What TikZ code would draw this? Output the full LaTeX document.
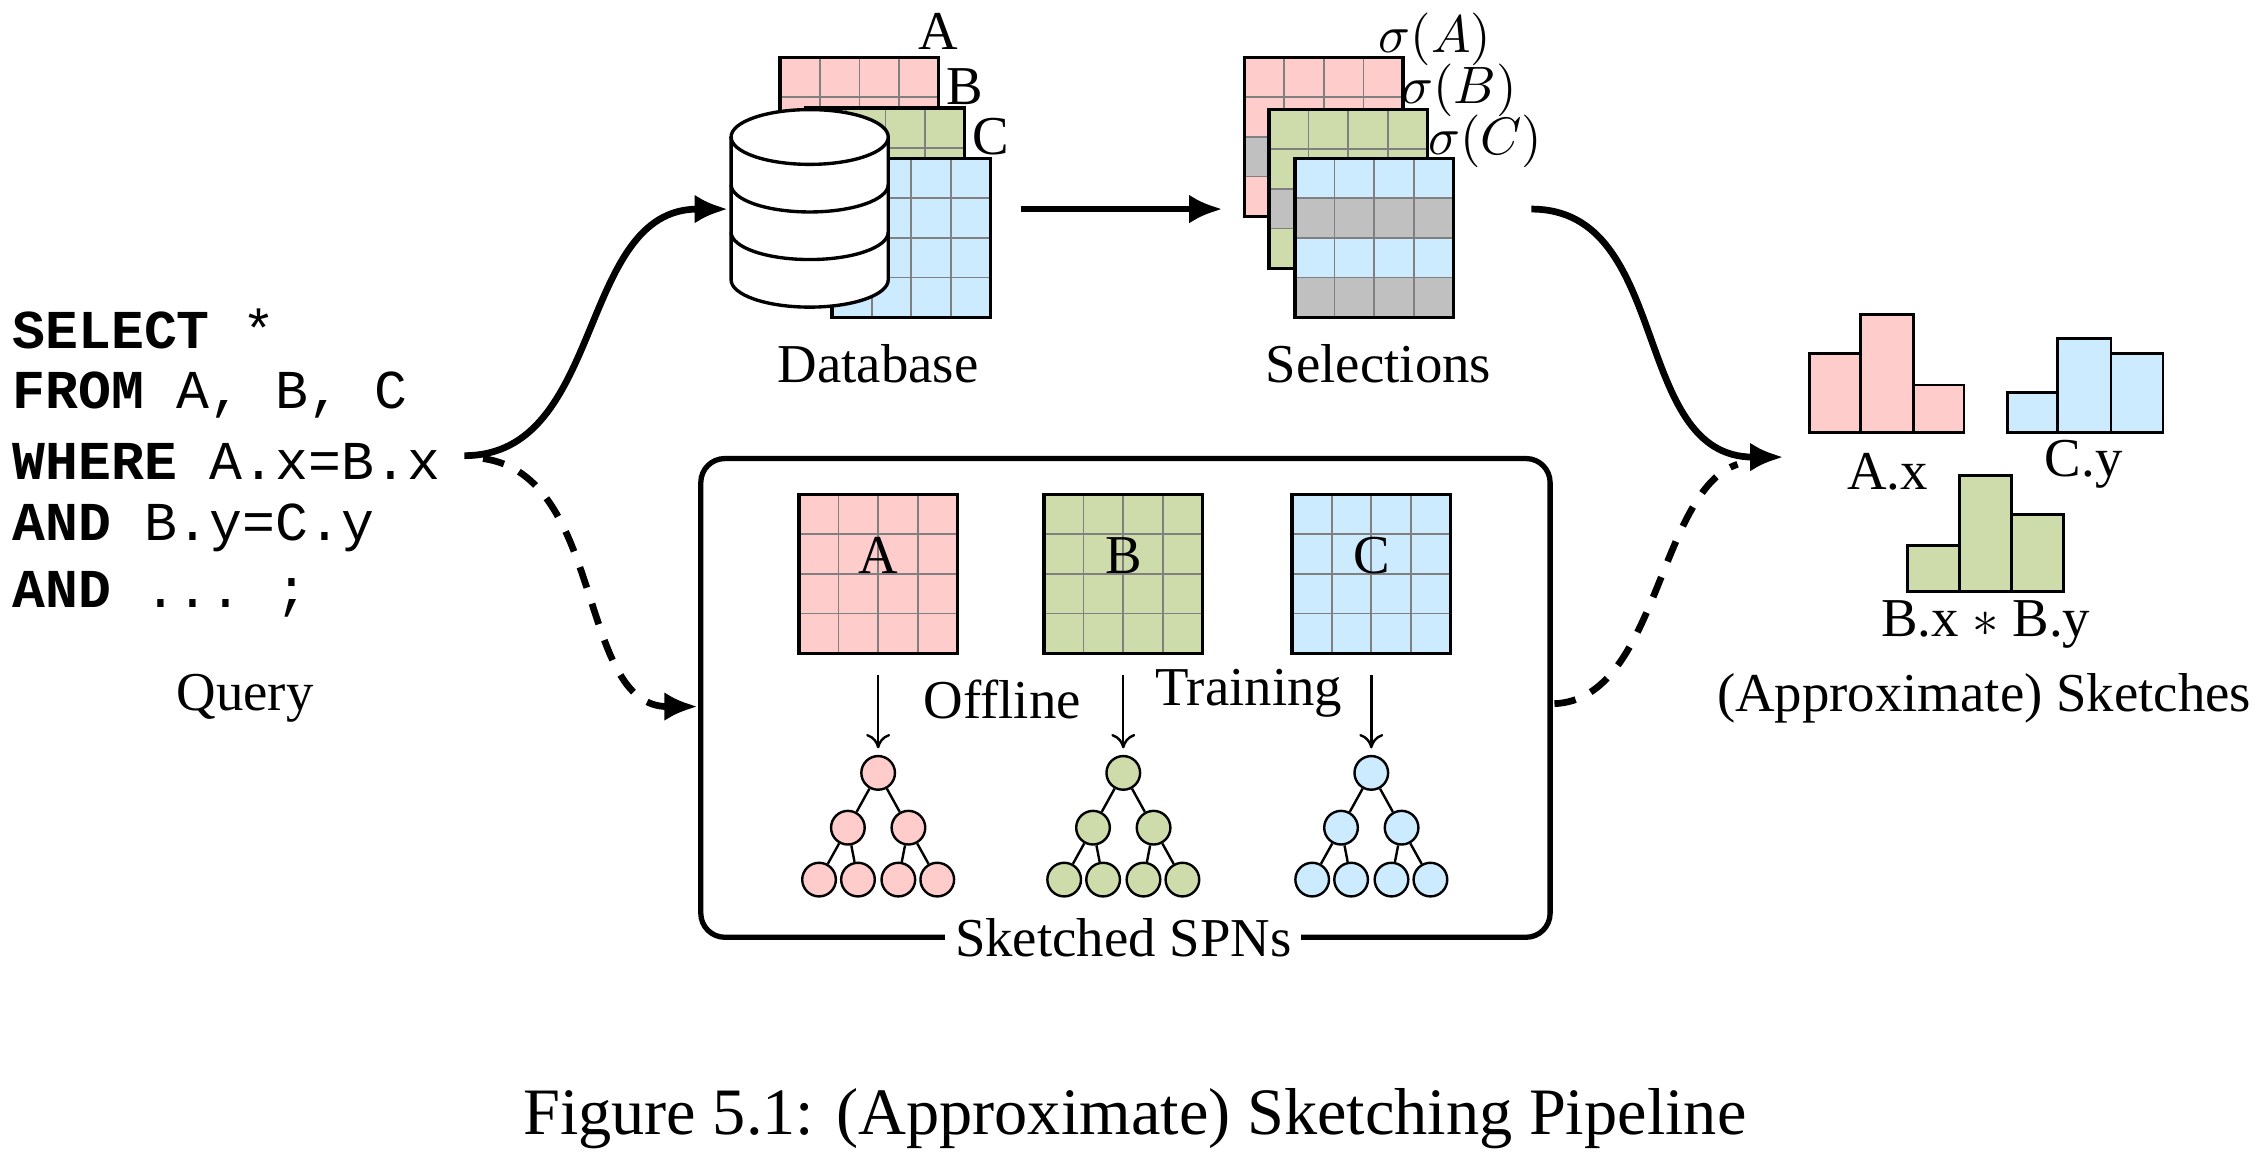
\documentclass[tikz,border=0pt]{standalone}
\usepackage{fontspec}
\setmainfont{Liberation Serif}
\setmonofont{Liberation Mono}
\usetikzlibrary{arrows.meta}
\definecolor{pinkc}{HTML}{FFCCCC}
\definecolor{greenc}{HTML}{CDDCAA}
\definecolor{bluec}{HTML}{CCEBFF}
\definecolor{grayc}{HTML}{C0C0C0}
\newcommand\fsmain{\fontsize{11.4}{13.5}\selectfont}
\begin{document}
\begin{tikzpicture}[x=0.3pt,y=-0.3pt,
  every node/.style={font=\fsmain, inner sep=0pt},
  grayrows/.store in=\grows, grayrows={0},
  tbl/.style={draw, line width=0.7pt, minimum width=33pt, minimum height=33pt, fill=#1,
    path picture={
      \foreach \r in \grows {\fill[grayc] ([yshift=-\r*8.25pt+8.25pt]path picture bounding box.north west) rectangle ([yshift=-\r*8.25pt]path picture bounding box.north east);}
      \foreach \i in {1,2,3}{
        \draw[gray, line width=0.35pt] ([xshift=\i*8.25pt]path picture bounding box.north west) -- ([xshift=\i*8.25pt]path picture bounding box.south west);
        \draw[gray, line width=0.35pt] ([yshift=-\i*8.25pt]path picture bounding box.north west) -- ([yshift=-\i*8.25pt]path picture bounding box.north east);}
    }},
  sn/.style={circle, draw, line width=0.5pt, fill=#1, minimum size=7pt},
  big/.style={line width=1.4pt, -{Latex[length=7pt,width=6pt]}},
  bigdash/.style={line width=1.4pt, dash pattern=on 4.5pt off 3.5pt},
  bar/.style={draw, line width=0.6pt, fill=#1}
]
\useasboundingbox (0,0) rectangle (1568,804);

% Query
\node[anchor=west, font=\fsmain\ttfamily] (q1) at (8,228) {\textbf{SELECT} *};
\node[anchor=west, font=\fsmain\ttfamily] (q2) at (8,274) {\textbf{FROM} A, B, C};
\node[anchor=west, font=\fsmain\ttfamily] (q3) at (8,320) {\textbf{WHERE} A.x=B.x};
\node[anchor=west, font=\fsmain\ttfamily] (q4) at (8,366) {\textbf{AND} B.y=C.y};
\node[anchor=west, font=\fsmain\ttfamily] (q5) at (8,412) {\textbf{AND} ... ;};
\node (query) at (170,484) {Query};

% Database tables
\node[tbl=pinkc] (da) at (596,95) {};
\node[tbl=greenc] (db) at (614,130) {};
\node[tbl=bluec] (dc) at (632,165) {};
\node (la) at (651,22) {A};
\node (lb) at (669,60) {B};
\node (lc) at (687,95) {C};
% cylinder
\begin{scope}[line width=0.7pt]
\filldraw[fill=white] (507,95) -- (507,194) arc[start angle=180,end angle=360,x radius=54.5,y radius=-19] -- (616,95);
\filldraw[fill=white] (561.5,95) ellipse[x radius=54.5, y radius=19];
\draw (507,128) arc[start angle=180,end angle=360,x radius=54.5,y radius=-19];
\draw (507,161) arc[start angle=180,end angle=360,x radius=54.5,y radius=-19];
\end{scope}
\coordinate (dbin) at (505,145);
\node (dblabel) at (609,252) {Database};

% Selections
\node[tbl=pinkc, grayrows={3}] (sa) at (918,95) {};
\node[tbl=greenc, grayrows={3}] (sb) at (935,131) {};
\node[tbl=bluec, grayrows={2,4}] (sc) at (953,165) {};
\node (sla) at (995,27) {$\sigma(A)$};
\node (slb) at (1012,63) {$\sigma(B)$};
\node (slc) at (1030,98) {$\sigma(C)$};
\node (sellabel) at (956,252) {Selections};

\coordinate (dbout) at (708,145);
\coordinate (selin) at (848,145);
\draw[big] (dbout) -- (selin);

% Box
\node[draw, line width=1.1pt, rounded corners=5pt, minimum width=589*0.3pt, minimum height=332*0.3pt] (box) at (780.5,484) {};
\node[fill=white, inner xsep=2pt] (spnlabel) at (779,650) {Sketched SPNs};

\node[tbl=pinkc] (ta) at (609,398) {};
\node[tbl=greenc] (tb) at (779,398) {};
\node[tbl=bluec] (tc) at (951,398) {};
\node (tal) at (609,385) {A};
\node (tbl) at (779,385) {B};
\node (tcl) at (951,385) {C};
\node (off) at (695,485) {Offline};
\node (train) at (866,481) {Training};

\foreach \p/\cx/\c in {a/609/pinkc, b/779/greenc, c/951/bluec}{
  \node[sn=\c] (\p r) at (\cx,536) {};
  \node[sn=\c] (\p l) at (\cx-21,574) {};
  \node[sn=\c] (\p m) at (\cx+21,574) {};
  \node[sn=\c] (\p 1) at (\cx-41,610) {};
  \node[sn=\c] (\p 2) at (\cx-14,610) {};
  \node[sn=\c] (\p 3) at (\cx+14,610) {};
  \node[sn=\c] (\p 4) at (\cx+41,610) {};
  \draw[line width=0.5pt] (\p r) -- (\p l) (\p r) -- (\p m) (\p l) -- (\p 1) (\p l) -- (\p 2) (\p m) -- (\p 3) (\p m) -- (\p 4);
  \coordinate (\p top) at (\cx,468);
  \coordinate (\p bot) at (\cx,519);
  \draw[line width=0.5pt, -{To[length=3pt,width=5pt]}] (\p top) -- (\p bot);
}

% Histograms
\draw[bar=pinkc] (1255,245) rectangle (1290,300);
\draw[bar=pinkc] (1290,218) rectangle (1327,300);
\draw[bar=pinkc] (1327,267) rectangle (1362,300);
\draw[bar=bluec] (1392,272) rectangle (1427,300);
\draw[bar=bluec] (1427,235) rectangle (1464,300);
\draw[bar=bluec] (1464,245) rectangle (1500,300);
\draw[bar=greenc] (1323,378) rectangle (1359,410);
\draw[bar=greenc] (1359,330) rectangle (1395,410);
\draw[bar=greenc] (1395,357) rectangle (1431,410);
\node (hax) at (1309,327) {A.x};
\node (hcy) at (1445,322) {C.y};
\node (hbxy) at (1377,433) {B.x $*$ B.y};
\node (sk) at (1376,484) {(Approximate) Sketches};
\coordinate (skin) at (1237,317);

% Connectors
\coordinate (qout) at (322,316);
\coordinate (qout2) at (335,318);
\coordinate (boxin) at (484,490);
\coordinate (boxout) at (1078,488);
\coordinate (selout) at (1062,145);
\coordinate (dashend) at (1205,322);
\draw[big] (qout) .. controls (420,316) and (400,145) .. (dbin);
\draw[bigdash, -{Latex[length=7pt,width=6pt]}] (qout2) .. controls (420,330) and (400,490) .. (boxin);
\draw[big] (selout) .. controls (1160,145) and (1130,317) .. (skin);
\draw[bigdash] (boxout) .. controls (1150,485) and (1150,340) .. (dashend);

\node[font=\fontsize{13.8}{16}\selectfont] (cap) at (787,776) {Figure 5.1: (Approximate) Sketching Pipeline};
\end{tikzpicture}
\end{document}
